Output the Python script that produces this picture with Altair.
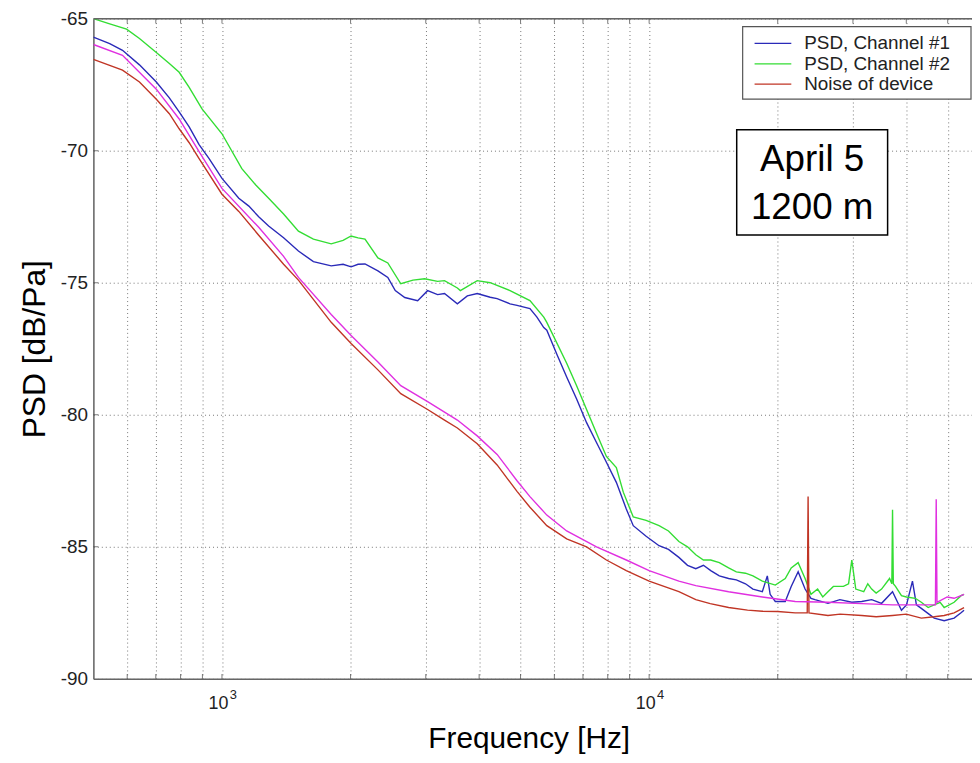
import altair as alt
import pandas as pd

# ---------------- data ----------------
series_names = ["PSD, Channel #1", "PSD, Channel #2", "Noise of device", "Noise (2)"]
series_colors = ["#2a2ab8", "#33dd33", "#c03525", "#e030e0"]

ch1_f = [500, 546, 585, 641, 702, 753, 794, 838, 884, 933, 1000, 1095, 1156, 1219, 1286, 1394, 1510, 1637,
         1802, 1921, 2006, 2083, 2162, 2318, 2445, 2545, 2679, 2872, 3030, 3197, 3319, 3557, 3753, 3959,
         4246, 4407, 4725, 4906, 5260, 5462, 5667, 5761, 6077, 6412, 6765, 7138, 7530, 7943, 8380, 8842,
         9180, 9840, 10550, 11100, 11740, 12300, 12860, 13400, 13940, 14600, 15350, 16000, 16810, 17500,
         18410, 18910, 19200, 19740, 20830, 21510, 22330, 23180, 23930, 24450, 26220, 27960, 29820, 31460,
         33190, 35010, 37140, 38970, 40040, 41350, 42240, 43370, 44790, 46500, 49060, 51760, 53730, 54610]
ch1_db = [-65.7, -65.95, -66.2, -66.75, -67.4, -68.0, -68.53, -69.1, -69.77, -70.3, -71.05, -71.8, -72.1,
          -72.5, -72.85, -73.3, -73.8, -74.2, -74.36, -74.3, -74.4, -74.3, -74.29, -74.55, -74.8, -75.3,
          -75.56, -75.68, -75.3, -75.45, -75.41, -75.8, -75.5, -75.41, -75.55, -75.6, -75.8, -75.86, -75.98,
          -76.3, -76.7, -76.8, -77.7, -78.57, -79.4, -80.3, -81.05, -81.8, -82.56, -83.57, -84.2, -84.6,
          -84.96, -85.1, -85.4, -85.7, -85.83, -85.7, -85.9, -86.1, -86.2, -86.25, -86.4, -86.6, -86.7,
          -86.1, -86.8, -87.07, -87.07, -86.5, -85.94, -86.6, -86.95, -87.0, -87.14, -87.0, -87.1, -87.07,
          -87.0, -87.14, -86.7, -87.4, -87.2, -86.3, -87.2, -87.33, -87.5, -87.7, -87.8, -87.7, -87.5, -87.4]

ch2_f = [500, 546, 598, 641, 702, 753, 794, 838, 898, 1000, 1113, 1200, 1286, 1394, 1510, 1637, 1802, 1921,
         2006, 2083, 2162, 2318, 2445, 2622, 2800, 2982, 3197, 3319, 3557, 3615, 3959, 4246, 4725, 5260,
         5667, 5761, 6412, 6765, 7138, 7530, 7943, 8380, 8700, 9180, 9840, 10550, 11100, 11740, 12300,
         12860, 13400, 13940, 14600, 15350, 16000, 16810, 17500, 18410, 19740, 20830, 21510, 22330, 23180,
         23930, 24800, 25500, 26220, 27000, 28500, 29300, 29820, 30460, 31800, 32500, 33190, 34000, 35010,
         36550, 37000, 37140, 37300, 37740, 38970, 40040, 42000, 43370, 45000, 46500, 48000, 49060, 51760,
         53730, 54610]
ch2_db = [-65.0, -65.2, -65.4, -65.75, -66.28, -66.7, -67.03, -67.6, -68.42, -69.36, -70.68, -71.3, -71.8,
          -72.4, -73.05, -73.35, -73.53, -73.4, -73.23, -73.3, -73.35, -74.06, -74.25, -75.04, -74.9, -74.85,
          -74.95, -74.92, -75.2, -75.3, -74.92, -75.0, -75.3, -75.68, -76.3, -76.5, -78.05, -78.9, -79.8,
          -80.7, -81.58, -82.0, -82.93, -83.87, -84.0, -84.2, -84.4, -84.8, -85.0, -85.3, -85.5, -85.5,
          -85.6, -85.8, -85.95, -86.0, -86.1, -86.3, -86.45, -86.2, -85.8, -85.6, -86.2, -86.8, -86.6,
          -86.9, -86.7, -86.5, -86.5, -86.4, -85.5, -86.6, -86.7, -86.4, -86.6, -86.75, -86.6, -86.2, -86.4,
          -83.6, -86.4, -86.5, -86.85, -86.9, -86.95, -87.1, -87.3, -87.2, -87.1, -87.3, -87.1, -86.85, -86.8]

noise_f = [500, 585, 641, 702, 753, 794, 838, 884, 1000, 1095, 1219, 1394, 1510, 1802, 2006, 2318, 2622,
           3030, 3319, 3557, 3959, 4407, 4906, 5260, 5761, 6412, 7138, 7943, 8842, 10000, 11740, 12860,
           13900, 15350, 17000, 18410, 20000, 21980, 23450, 23560, 23670, 26220, 28000, 31460, 34000, 37140,
           40000, 43370, 46500, 49060, 51760, 54610]
noise_db = [-66.54, -66.95, -67.4, -68.05, -68.6, -69.17, -69.7, -70.3, -71.65, -72.3, -73.2, -74.3, -74.9,
            -76.5, -77.3, -78.3, -79.2, -79.8, -80.2, -80.5, -81.1, -81.9, -82.9, -83.5, -84.2, -84.7, -85.0,
            -85.5, -85.9, -86.3, -86.7, -87.0, -87.15, -87.3, -87.4, -87.44, -87.45, -87.5, -87.5, -83.1,
            -87.5, -87.6, -87.55, -87.6, -87.65, -87.6, -87.55, -87.7, -87.65, -87.6, -87.5, -87.3]

noise2_f = [500, 585, 702, 794, 884, 1000, 1219, 1394, 1510, 1802, 2006, 2318, 2622, 3030, 3319, 3557, 3959,
            4407, 4906, 5260, 5761, 6412, 7530, 8842, 10000, 11740, 12860, 15350, 18410, 21980, 26220, 31460,
            37140, 43370, 46800, 47000, 47200, 49860, 51760, 53730, 54610]
noise2_db = [-65.98, -66.39, -67.67, -68.8, -70.04, -71.43, -72.9, -74.0, -74.8, -76.2, -77.0, -78.0, -78.9,
             -79.5, -79.9, -80.2, -80.8, -81.5, -82.5, -83.1, -83.8, -84.4, -85.0, -85.5, -85.9, -86.3,
             -86.47, -86.7, -86.9, -87.07, -87.1, -87.15, -87.2, -87.2, -87.2, -83.2, -87.1, -86.9, -86.95,
             -86.85, -86.8]

x_grid = [600, 700, 800, 900, 1000, 2000, 3000, 4000, 5000, 6000, 7000, 8000, 9000,
          10000, 20000, 30000, 40000, 50000]
y_ticks = [-90, -85, -80, -75, -70, -65]
x_major = [1000, 10000]
x_major_exp = ["3", "4"]
annotation_lines = ["April 5", "1200 m"]

# ---------------- build table ----------------
rows = []
for name, fs, ds in zip(series_names, [ch1_f, ch2_f, noise_f, noise2_f],
                        [ch1_db, ch2_db, noise_db, noise2_db]):
    assert len(fs) == len(ds), name
    for f, d in zip(fs, ds):
        rows.append({"f": f, "psd": d, "series": name})
df = pd.DataFrame(rows)

W, H = 885, 665
FONT = "Liberation Sans"
xscale = alt.Scale(type="log", domain=[500, 57000], nice=False)
yscale = alt.Scale(domain=[-90, -65], nice=False)

x_axis = alt.Axis(values=x_grid, labelExpr="datum.value == 1000 || datum.value == 10000 ? '10' : ''",
                  ticks=False, grid=True, gridDash=[1, 3], gridColor="#777", gridWidth=1,
                  domainColor="#666", domainWidth=1.5, labelFontSize=18, labelPadding=16,
                  labelOffset=-4, labelColor="#222", labelFont=FONT, labelFlush=False,
                  labelOverlap=False, title="Frequency [Hz]", titleFontSize=30,
                  titleFontWeight="normal", titleFont=FONT, titleColor="#000",
                  titleY=69, titleBaseline="alphabetic", titleX=W / 2 - 4)
y_axis = alt.Axis(values=y_ticks, labelExpr="'' + datum.value", ticks=False, grid=True,
                  gridDash=[1, 3], gridColor="#777", gridWidth=1, domainColor="#666",
                  domainWidth=1.5, labelFontSize=19, labelPadding=6, labelColor="#222",
                  labelFont=FONT, labelFlush=False, title="PSD [dB/Pa]", titleFontSize=32,
                  titleFontWeight="normal", titleFont=FONT, titleColor="#000", titleAngle=270,
                  titleX=-49, titleY=H / 2, titleBaseline="alphabetic", titleAlign="center")

lines = alt.Chart(df).mark_line(strokeWidth=1.4, clip=True).encode(
    x=alt.X("f:Q", scale=xscale, axis=x_axis),
    y=alt.Y("psd:Q", scale=yscale, axis=y_axis),
    color=alt.Color("series:N", scale=alt.Scale(domain=series_names, range=series_colors),
                    legend=None),
    order=alt.Order("f:Q"),
)

# inward tick marks
xt = pd.DataFrame({"f": x_grid})
yt = pd.DataFrame({"psd": y_ticks[1:-1]})
ticks_bottom = alt.Chart(xt).mark_tick(orient="vertical", size=10, thickness=1, color="#444",
                                       clip=True).encode(x="f:Q", y=alt.value(H))
ticks_top = alt.Chart(xt).mark_tick(orient="vertical", size=10, thickness=1, color="#444",
                                    clip=True).encode(x="f:Q", y=alt.value(0))
ticks_left = alt.Chart(yt).mark_tick(orient="horizontal", size=10, thickness=1, color="#444",
                                     clip=True).encode(y="psd:Q", x=alt.value(0))

# top frame line
one = pd.DataFrame({"a": [0]})
top_rule = alt.Chart(one).mark_rule(color="#666", strokeWidth=1.5).encode(
    x=alt.value(0), x2=alt.value(W), y=alt.value(0))

# superscripts of the 10^n labels
sup = pd.DataFrame({"f": x_major, "s": x_major_exp})
sup_text = alt.Chart(sup).mark_text(fontSize=13, font=FONT, color="#222", dx=11.5,
                                    baseline="middle", align="center").encode(
    x="f:Q", y=alt.value(H + 16.5), text="s:N")

# legend (manual, only three entries like the original)
leg_box = alt.Chart(one).mark_rect(fill="white", stroke="#555", strokeWidth=1.2).encode(
    x=alt.value(654), x2=alt.value(W - 1), y=alt.value(8), y2=alt.value(81))
leg_layers = [leg_box]
for i, (nm, col) in enumerate(zip(series_names[:3], series_colors[:3])):
    yy = 25 + i * 20.5
    leg_layers.append(alt.Chart(one).mark_rule(color=col, strokeWidth=1.2).encode(
        x=alt.value(666), x2=alt.value(703), y=alt.value(yy)))
    leg_layers.append(alt.Chart(one).mark_text(text=nm, fontSize=19, font=FONT, color="#222",
                                               align="left", baseline="middle").encode(
        x=alt.value(716), y=alt.value(yy)))

# annotation box
ann_box = alt.Chart(one).mark_rect(fill="white", stroke="#000", strokeWidth=1.5).encode(
    x=alt.value(648), x2=alt.value(800), y=alt.value(112), y2=alt.value(218))
ann_text = alt.Chart(one).mark_text(text=annotation_lines, fontSize=37, font=FONT, color="#000",
                                    align="center", baseline="middle", lineHeight=49).encode(
    x=alt.value(724), y=alt.value(142))

chart = alt.layer(lines, ticks_bottom, ticks_top, ticks_left, top_rule, sup_text,
                  *leg_layers, ann_box, ann_text).properties(
    width=W, height=H,
    autosize=alt.AutoSizeParams(type="none"),
    padding={"left": 86, "top": 8, "right": 0, "bottom": 74},
).configure_view(stroke=None).configure(background="white")

chart.save("out.html", embed_options={"renderer": "svg", "actions": False})
